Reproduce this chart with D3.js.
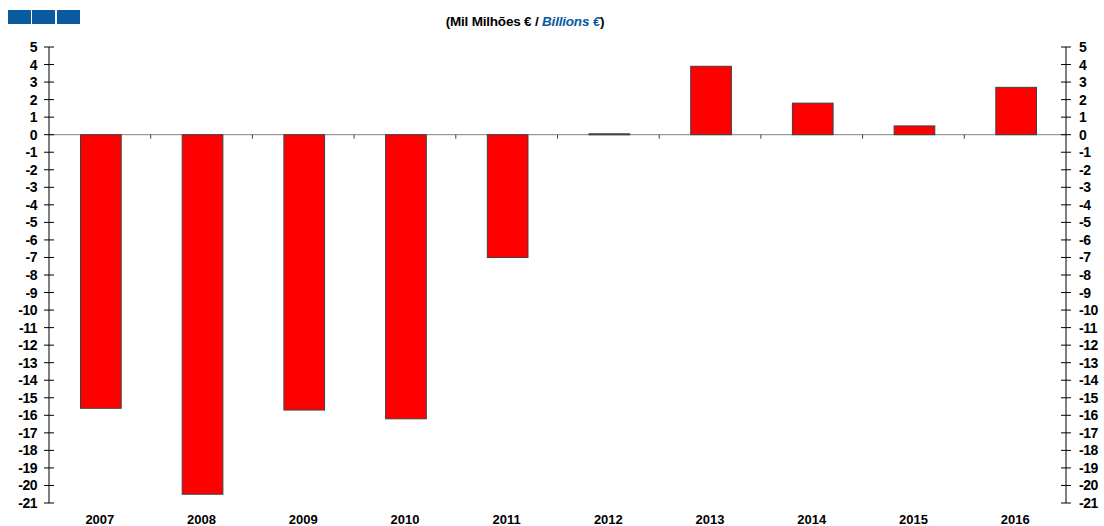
<!DOCTYPE html>
<html>
<head>
<meta charset="utf-8">
<script src="https://cdn.jsdelivr.net/npm/d3@7"></script>
<style>
  body { margin: 0; background: #fff; }
  text { font-family: "Liberation Sans", Arial, sans-serif; }
</style>
</head>
<body>
<svg id="chart" width="1104" height="526"></svg>
<script>
var years = ["2007", "2008", "2009", "2010", "2011", "2012", "2013", "2014", "2015", "2016"];
var balance = [-15.6, -20.5, -15.7, -16.2, -7.0, 0.05, 3.9, 1.8, 0.5, 2.7];
var yTicks = d3.range(5, -22, -1);

var svg = d3.select("#chart");

var plotLeft = 49, plotRight = 1066, plotTop = 47, plotBottom = 503;

var x = d3.scaleBand()
  .domain(years)
  .range([plotLeft, plotRight])
  .paddingInner(0.6)
  .paddingOuter(0.3);

var xOuter = d3.scaleBand().domain(years).range([plotLeft, plotRight]);

var y = d3.scaleLinear()
  .domain([-21, 5])
  .range([plotBottom, plotTop]);

// header squares
svg.append("g").selectAll("rect")
  .data([8, 32, 57])
  .enter()
  .append("rect")
  .attr("x", function (d) { return d; })
  .attr("y", 10)
  .attr("width", 23)
  .attr("height", 14)
  .attr("fill", "#0a5aa0");

// title
var title = svg.append("text")
  .attr("x", 525)
  .attr("y", 26)
  .attr("text-anchor", "middle")
  .style("font-size", "13.5px")
  .style("font-weight", "bold")
  .style("letter-spacing", "-0.2px");
title.append("tspan").text("(Mil Milhões € / ");
title.append("tspan").attr("fill", "#0a5aa0").style("font-style", "italic").text("Billions €");
title.append("tspan").text(")");

// zero line
svg.append("line")
  .attr("x1", plotLeft).attr("x2", plotRight)
  .attr("y1", y(0)).attr("y2", y(0))
  .attr("stroke", "#808080")
  .attr("stroke-width", 1);

// ticks between categories on zero line
svg.append("g").selectAll("line")
  .data(years.slice(1))
  .enter()
  .append("line")
  .attr("x1", function (d) { return xOuter(d); })
  .attr("x2", function (d) { return xOuter(d); })
  .attr("y1", y(0))
  .attr("y2", y(0) + 4)
  .attr("stroke", "#404040");

// bars
svg.append("g").selectAll("rect")
  .data(balance)
  .enter()
  .append("rect")
  .attr("x", function (d, i) { return x(years[i]) + 1; })
  .attr("y", function (d) { return y(Math.max(0, d)); })
  .attr("width", x.bandwidth())
  .attr("height", function (d) { return Math.max(1, Math.abs(y(d) - y(0))); })
  .attr("fill", function (d) { return d < 0.1 && d > 0 ? "#202020" : "#ff0000"; })
  .attr("stroke", "#404040")
  .attr("stroke-width", 1);

// y axes
function drawAxis(xPos, side) {
  var g = svg.append("g");
  g.append("line")
    .attr("x1", xPos).attr("x2", xPos)
    .attr("y1", y(5)).attr("y2", y(-21))
    .attr("stroke", "#000");
  g.selectAll(".tk")
    .data(yTicks)
    .enter()
    .append("line")
    .attr("x1", xPos - 5).attr("x2", xPos + 5)
    .attr("y1", function (d) { return y(d); })
    .attr("y2", function (d) { return y(d); })
    .attr("stroke", "#000");
  g.selectAll("text")
    .data(yTicks)
    .enter()
    .append("text")
    .attr("x", side === "left" ? 37 : 1079)
    .attr("y", function (d) { return y(d) + 5; })
    .attr("text-anchor", side === "left" ? "end" : "start")
    .style("font-size", "14px")
    .style("font-weight", "bold")
    .style("letter-spacing", "-0.5px")
    .text(function (d) { return d; });
}
drawAxis(plotLeft, "left");
drawAxis(plotRight, "right");

// x labels
svg.append("g").selectAll("text")
  .data(years)
  .enter()
  .append("text")
  .attr("x", function (d) { return xOuter(d) + xOuter.bandwidth() / 2; })
  .attr("y", 524)
  .attr("text-anchor", "middle")
  .style("font-size", "13px")
  .style("font-weight", "bold")
  .text(function (d) { return d; });
</script>
</body>
</html>
